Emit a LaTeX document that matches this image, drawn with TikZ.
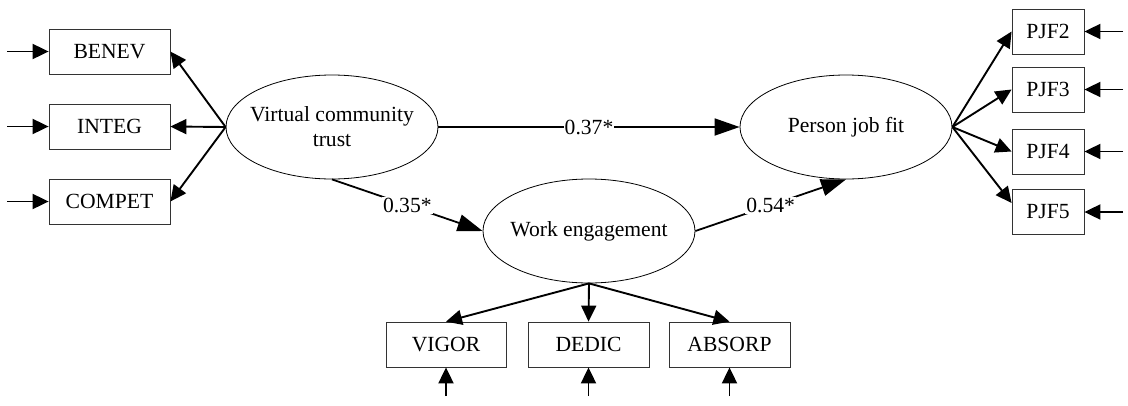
\documentclass[tikz,border=0pt]{standalone}
\usepackage{fontspec}
\setmainfont{Liberation Serif}
\usetikzlibrary{shapes.geometric,arrows.meta}
\tikzset{
  box/.style={draw=black!80,line width=0.8pt,minimum height=45pt,inner sep=0pt,font=\fontsize{21.6}{25}\selectfont},
  latent/.style={draw=black,ellipse,line width=0.8pt,minimum width=212pt,minimum height=104pt,inner sep=0pt},
  lattext/.style={align=center,inner sep=0pt,font=\fontsize{21.6}{25}\selectfont},
  arr/.style={line width=1.9pt,-{Triangle[length=16pt,width=15pt]}},
  bigarr/.style={line width=1.8pt,-{Triangle[length=25pt,width=17pt]}},
  lbl/.style={fill=white,inner sep=1pt,font=\fontsize{21.6}{25}\selectfont}
}
\begin{document}
\begin{tikzpicture}[x=1pt,y=-1pt]
\useasboundingbox (0,0) rectangle (1128,405);
% latent variables
\node[latent,label={[lattext]center:Virtual community\\trust}] (vct) at (332,127) {};
\node[latent,label={[lattext]center:Person job fit}] (pjf) at (846,127) {};
\node[latent,label={[lattext]center:Work engagement}] (we) at (589,231) {};
% left indicators
\node[box,minimum width=121pt] (benev) at (109.5,51.5) {BENEV};
\node[box,minimum width=121pt] (integ) at (109.5,126.5) {INTEG};
\node[box,minimum width=121pt] (compet) at (109.5,201.5) {COMPET};
% right indicators
\node[box,minimum width=72pt] (pjf2) at (1048,31.5) {PJF2};
\node[box,minimum width=72pt] (pjf3) at (1048,89.5) {PJF3};
\node[box,minimum width=72pt] (pjf4) at (1048,151.5) {PJF4};
\node[box,minimum width=72pt] (pjf5) at (1048,212) {PJF5};
% bottom indicators
\node[box,minimum width=120pt] (vigor) at (446,344.5) {VIGOR};
\node[box,minimum width=121pt] (dedic) at (588.5,344.5) {DEDIC};
\node[box,minimum width=121pt] (absorp) at (729.5,344.5) {ABSORP};
% error terms
\coordinate (eb) at (7,51.5);
\coordinate (ei) at (7,126.5);
\coordinate (ec) at (7,201.5);
\coordinate (e2) at (1123,31.5);
\coordinate (e3) at (1123,89.5);
\coordinate (e4) at (1123,151.5);
\coordinate (e5) at (1123,212);
\coordinate (ev) at (446,396);
\coordinate (ed) at (588.5,396);
\coordinate (ea) at (729.5,396);
\draw[arr] (eb) -- (benev.west);
\draw[arr] (ei) -- (integ.west);
\draw[arr] (ec) -- (compet.west);
\draw[arr] (e2) -- (pjf2.east);
\draw[arr] (e3) -- (pjf3.east);
\draw[arr] (e4) -- (pjf4.east);
\draw[arr] (e5) -- (pjf5.east);
\draw[arr] (ev) -- (vigor.south);
\draw[arr] (ed) -- (dedic.south);
\draw[arr] (ea) -- (absorp.south);
% loadings
\draw[arr] (vct.west) -- (benev.east);
\draw[arr] (vct.west) -- (integ.east);
\draw[arr] (vct.west) -- (compet.east);
\draw[arr] (pjf.east) -- (pjf2.west);
\draw[arr] (pjf.east) -- (pjf3.west);
\draw[arr] (pjf.east) -- (pjf4.west);
\draw[arr] (pjf.east) -- ([yshift=9pt]pjf5.west);
\draw[arr] (we.south) -- (vigor.north);
\draw[arr] (we.south) -- (dedic.north);
\draw[arr] (we.south) -- (absorp.north);
% structural paths
\draw[bigarr] (vct.east) -- node[lbl] {0.37*} (pjf.west);
\draw[bigarr] (vct.south) -- node[lbl] {0.35*} (we.west);
\draw[bigarr] (we.east) -- node[lbl] {0.54*} (pjf.south);
\end{tikzpicture}
\end{document}
